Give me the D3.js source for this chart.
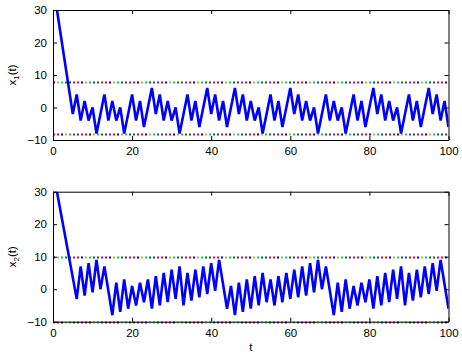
<!DOCTYPE html>
<html>
<head>
<meta charset="utf-8">
<script src="https://cdn.jsdelivr.net/npm/d3@7"></script>
<style>
  body { margin: 0; background: #fff; }
  svg { display: block; font-family: "Liberation Sans", Arial, Helvetica, sans-serif; }
</style>
</head>
<body>
<div id="chart"></div>
<script>
// state trajectories, sampled at t = 1..100
var x1 = [30,22,14,6,-2,4,-4,2,-4,0,
  -8,-2,4,-4,2,-4,0,-8,-2,4,
  -4,2,-6,0,6,-2,4,-4,2,-4,
  0,-8,-2,4,-4,2,-6,0,6,-2,
  4,-4,2,-6,0,6,-2,4,-4,2,
  -4,0,-8,-2,4,-4,2,-6,0,6,
  -2,4,-4,2,-4,0,-8,-2,4,-4,
  2,-4,0,-8,-2,4,-4,2,-6,0,
  6,-2,4,-4,2,-4,0,-8,-2,4,
  -4,2,-6,0,6,-2,4,-4,2,-6];

var x2 = [30,23.4,16.8,10.2,3.6,-3,7,-2,8,-1,
  9,0,7,-0.5,-8,2,-7,3,-6,1,
  -5,2,-4,3,-6,4,-5,5,-4,6,
  -3,7,-5,5,-3.5,6,-2.5,7,-1.5,8,
  -0.5,9,1.5,-6,1,-8,2,-7,3,-6,
  4,-5,5,-4,3,-5,4,-4,5,-3,
  6,-2.5,7,-2,8,-1,9,0,7,-0.5,
  -8,2,-7,3,-6,1,-5,2,-4,3,
  -6,4,-5,5,-4,6,-3,7,-5,5,
  -3.5,6,-2.5,7,-1.5,8,-0.5,9,1.5,-6];

// bounds drawn as dotted lines
var bounds1 = [8, -8];
var bounds2 = [10, -10];

var xTicks = [0, 20, 40, 60, 80, 100];
var yTicks = [-10, 0, 10, 20, 30];
var dotColors = ["#0000ff", "#008000", "#ff0000", "#00bfbf", "#bf00bf", "#bfbf00", "#404040"];

var W = 462, H = 354;
var svg = d3.select("#chart").append("svg").attr("width", W).attr("height", H);

function panel(id, top, bottom, data, bounds, label) {
  var x = d3.scaleLinear().domain([0, 100]).range([53, 448.5]);
  var y = d3.scaleLinear().domain([-10, 30]).range([bottom, top]);
  var g = svg.append("g");

  g.append("clipPath").attr("id", id)
    .append("rect").attr("x", 53).attr("y", top).attr("width", 395.5).attr("height", bottom - top);

  // dotted bounds, one dotted line per colour so the dots alternate
  bounds.forEach(function(b, k) {
    dotColors.forEach(function(c, i) {
      var j = (i * 3 + k * 2) % 7;
      g.append("line")
        .attr("x1", x(0)).attr("x2", x(100))
        .attr("y1", Math.round(y(b)) + 0.5).attr("y2", Math.round(y(b)) + 0.5)
        .attr("stroke", c)
        .attr("stroke-width", 2)
        .attr("stroke-dasharray", "2,26")
        .attr("stroke-dashoffset", -j * 4);
    });
  });

  var line = d3.line()
    .x(function(d, i) { return x(i + 1); })
    .y(function(d) { return y(d); });

  g.append("path")
    .datum(data)
    .attr("clip-path", "url(#" + id + ")")
    .attr("fill", "none")
    .attr("stroke", "#0000ff")
    .attr("stroke-width", 2.6)
    .attr("stroke-linejoin", "miter")
    .attr("d", line);

  // axes box with inward ticks on all sides
  var bot = g.append("g").attr("transform", "translate(0," + bottom + ")")
    .call(d3.axisBottom(x).tickValues(xTicks).tickSizeInner(-4).tickSizeOuter(0).tickPadding(7));
  var topAx = g.append("g").attr("transform", "translate(0," + top + ")")
    .call(d3.axisTop(x).tickValues(xTicks).tickSizeInner(-4).tickSizeOuter(0).tickFormat(""));
  var left = g.append("g").attr("transform", "translate(53,0)")
    .call(d3.axisLeft(y).tickValues(yTicks).tickSizeInner(-4).tickSizeOuter(0).tickPadding(6)
      .tickFormat(function(d) { return d < 0 ? "\u2212" + Math.abs(d) : d; }));
  var right = g.append("g").attr("transform", "translate(448.5,0)")
    .call(d3.axisRight(y).tickValues(yTicks).tickSizeInner(-4).tickSizeOuter(0).tickFormat(""));

  [bot, topAx, left, right].forEach(function(a) {
    a.select(".domain").attr("stroke", "#000").attr("stroke-width", 1);
    a.selectAll(".tick line").attr("stroke", "#000");
    a.selectAll("text").attr("font-size", 11.5).attr("fill", "#000")
      .style("font-family", "'Liberation Sans', Arial, sans-serif");
  });

  var lab = g.append("text")
    .attr("transform", "translate(16," + ((top + bottom) / 2) + ") rotate(-90)")
    .attr("text-anchor", "middle")
    .attr("font-size", 11.5);
  lab.append("tspan").text(label);
  lab.append("tspan").attr("font-size", 8).attr("dy", 3).text(id === "c1" ? "1" : "2");
  lab.append("tspan").attr("dy", -3).text("(t)");

  return x;
}

panel("c1", 10, 140, x1, bounds1, "x");
var xb = panel("c2", 191.7, 321.7, x2, bounds2, "x");

svg.append("text")
  .attr("x", xb(50)).attr("y", 351)
  .attr("text-anchor", "middle")
  .attr("font-size", 11.5)
  .text("t");
</script>
</body>
</html>
